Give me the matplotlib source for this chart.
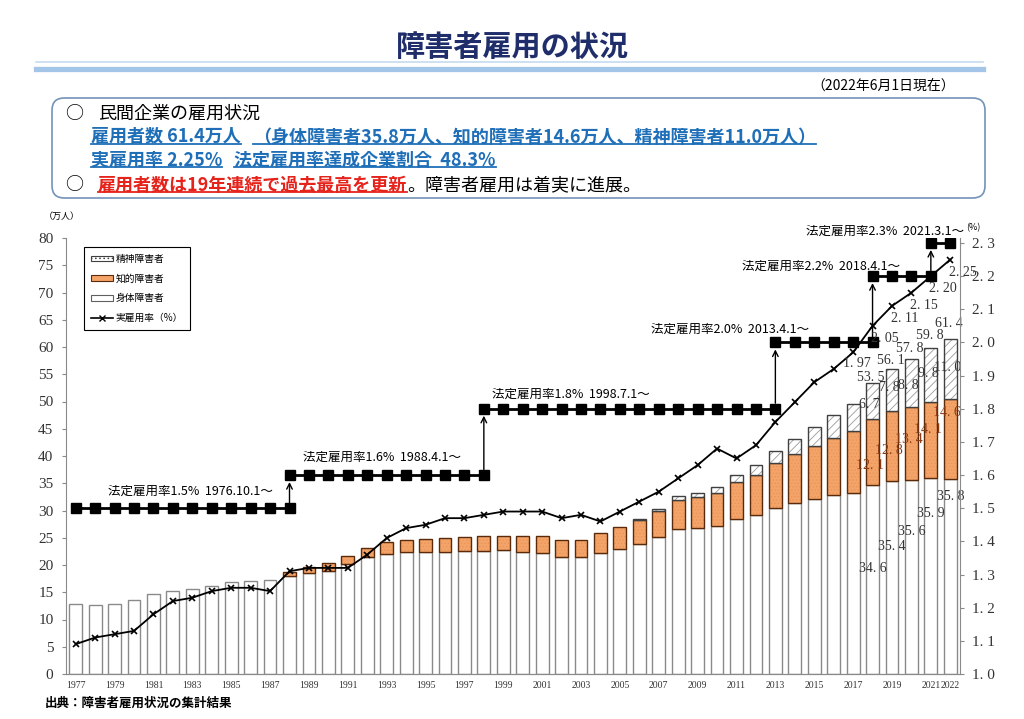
import numpy as np
import matplotlib.pyplot as plt
import matplotlib.patches as mpatches
from matplotlib.lines import Line2D
from matplotlib.patches import FancyBboxPatch

plt.rcParams['font.family'] = ['Noto Sans CJK JP', 'DejaVu Sans']
plt.rcParams['hatch.linewidth'] = 0.6

# data (万人, %)
years = list(range(1977, 2023))
shintai = [12.8, 12.7, 12.8, 13.5, 14.6, 15.3, 15.6, 16.1, 16.8, 17.1, 17.2,
           17.9, 18.5, 18.9, 20.2, 21.4, 22.1, 22.3, 22.3, 22.4, 22.6, 22.6,
           22.7, 22.3, 22.2, 21.4, 21.4, 22.2, 22.9, 23.8, 25.1, 26.6, 26.8,
           27.2, 28.4, 29.1, 30.4, 31.3, 32.1, 32.8, 33.3, 34.6, 35.4, 35.6,
           35.9, 35.8]
chiteki = [0] * 11 + [0.9, 1.2, 1.4, 1.4, 1.7, 2.1, 2.3, 2.5, 2.5, 2.5, 2.7,
                      2.7, 3.0, 3.1, 3.2, 3.2, 3.7, 4.0, 4.4, 4.8, 5.4, 5.7,
                      6.1, 6.9, 7.5, 8.3, 9.0, 9.8, 10.5, 11.2, 12.1, 12.8,
                      13.4, 14.1, 14.6]
seishin = [0] * 29 + [0.2, 0.4, 0.6, 0.8, 1.0, 1.3, 1.7, 2.2, 2.8, 3.4, 4.2,
                      5.0, 6.7, 7.8, 8.8, 9.8, 11.0]
rate = [1.09, 1.11, 1.12, 1.13, 1.18, 1.22, 1.23, 1.25, 1.26, 1.26, 1.25,
        1.31, 1.32, 1.32, 1.32, 1.36, 1.41, 1.44, 1.45, 1.47, 1.47, 1.48,
        1.49, 1.49, 1.49, 1.47, 1.48, 1.46, 1.49, 1.52, 1.55, 1.59, 1.63,
        1.68, 1.65, 1.69, 1.76, 1.82, 1.88, 1.92, 1.97, 2.05, 2.11, 2.15,
        2.20, 2.25]
total_last5 = [53.5, 56.1, 57.8, 59.8, 61.4]

legal_rate = [1.5, 1.6, 1.8, 2.0, 2.2, 2.3]
legal_from = [1977, 1988, 1998, 2013, 2018, 2021]
legal_to = [1988, 1998, 2013, 2018, 2021, 2022]
legal_date = ["1976.10.1～", "1988.4.1～", "1998.7.1～", "2013.4.1～", "2018.4.1～", "2021.3.1～"]
legal_lbl_dx = [1.65, 0.7, 0.4, -6.4, -6.7, -6.4]
legal_lbl_dy = [0.05, 0.055, 0.045, 0.04, 0.03, 0.035]

# label heights (万人) used in the original for the last five years
body_lbl_y = [19.4, 23.4, 26.1, 29.5, 32.5]
chiteki_lbl_y = [38.3, 41.1, 43.1, 44.9, 47.9]
seishin_lbl_y = [49.5, 52.5, 53.0, 55.2, 56.3]

W, H = 1024, 719
SERIF = 'Liberation Serif'

x = np.arange(len(years))
shintai = np.array(shintai)
chiteki = np.array(chiteki)
seishin = np.array(seishin)

fig = plt.figure(figsize=(W / 100, H / 100), dpi=100)
ax = fig.add_axes([66 / W, 45 / H, 894 / W, 436 / H])
ax2 = ax.twinx()

bw = 0.66
ax.bar(x, shintai, bw, color='white', edgecolor='#8a8a8a', lw=1, zorder=2)
m = chiteki > 0
ax.bar(x[m], chiteki[m], bw, bottom=shintai[m], color='#F4A468', edgecolor='#E9955A',
       hatch='.....', lw=0, zorder=2)
ax.bar(x[m], chiteki[m], bw, bottom=shintai[m], fill=False, edgecolor='#5a2a0a', lw=1, zorder=2)
m = seishin > 0
ax.bar(x[m], seishin[m], bw, bottom=(shintai + chiteki)[m], color='white', edgecolor='#9a9a9a',
       hatch='////', lw=0, zorder=2)
ax.bar(x[m], seishin[m], bw, bottom=(shintai + chiteki)[m], fill=False, edgecolor='#404040',
       lw=1, zorder=2)

ax.set_xlim(-0.5, 45.5)
ax.set_ylim(0, 80)
ax2.set_ylim(1.0, 2.315)

# actual rate line
ax2.plot(x, rate, color='black', lw=1.3, marker='x', ms=5, mew=1.2, zorder=4)

# legal rate steps
for i, r in enumerate(legal_rate):
    xs = np.arange(legal_from[i] - 1977, legal_to[i] - 1977 + 1)
    ax2.plot(xs, [r] * len(xs), color='black', lw=2, marker='s', ms=6.5, zorder=5)
    if i > 0:
        xi = legal_from[i] - 1977
        ax2.annotate('', xy=(xi, r), xytext=(xi, legal_rate[i - 1]),
                     arrowprops=dict(arrowstyle='->', color='black', lw=1, shrinkA=4, shrinkB=5),
                     zorder=5)
    ax2.text(legal_from[i] - 1977 + legal_lbl_dx[i], r + legal_lbl_dy[i],
             f"法定雇用率{r:.1f}%  {legal_date[i]}", fontsize=9, ha='left', va='center',
             clip_on=False)


def num(v, d=1):
    return f"{v:.{d}f}".replace('.', '. ')


# value labels for the last five years
FS = 10
for k, i in enumerate(range(41, 46)):
    ax.annotate(num(total_last5[k]), (x[i], total_last5[k]), xytext=(-1, 3.4 + 2 * k),
                textcoords='offset points', ha='center', va='center', fontsize=FS,
                family=SERIF, color='#333333', zorder=6)
    ax.text(x[i] - 0.15, seishin_lbl_y[k], num(seishin[i]), ha='center', va='center',
            fontsize=FS, family=SERIF, color='#333333', zorder=6)
    ax.text(x[i] - 0.15, chiteki_lbl_y[k], num(chiteki[i]), ha='center', va='center',
            fontsize=FS, family=SERIF, color='#8a3a12', zorder=6)
    ax.text(x[i], body_lbl_y[k], num(shintai[i]), ha='center', va='center',
            fontsize=FS, family=SERIF, color='#333333', zorder=6)
    ax2.annotate(num(rate[i], 2), (x[i], rate[i]), xytext=(9, -9),
                 textcoords='offset points', ha='center', va='center', fontsize=FS,
                 family=SERIF, color='#333333', zorder=6)
ax2.annotate(num(rate[40], 2), (x[40], rate[40]), xytext=(3, -8),
             textcoords='offset points', ha='center', va='center', fontsize=FS,
             family=SERIF, color='#333333', zorder=6)

# axes styling
for a in (ax, ax2):
    a.spines['top'].set_visible(False)
    for s in a.spines.values():
        s.set_color('#8a8a8a')
ax.spines['right'].set_visible(False)
ax2.spines['left'].set_visible(False)

ax.set_yticks(range(0, 81, 5))
ax.set_yticklabels([str(v) for v in range(0, 81, 5)], family=SERIF, fontsize=11, color='#333333')
ax.tick_params(axis='y', length=3, color='#8a8a8a', pad=6)
rt = np.round(np.arange(1.0, 2.31, 0.1), 1)
ax2.set_yticks(rt)
ax2.set_yticklabels([num(v) for v in rt], family=SERIF, fontsize=11, color='#333333')
ax2.tick_params(axis='y', length=3, color='#8a8a8a', pad=6)

xt = [i for i, y in enumerate(years) if y % 2 == 1] + [45]
ax.set_xticks(xt)
ax.set_xticklabels([str(years[i]) for i in xt], family=SERIF, fontsize=7, color='#333333')
ax.tick_params(axis='x', length=0, pad=5)

fig.text(62 / W, 1 - 216 / H, "（万人）", fontsize=6.5, ha='center', va='center')
fig.text(973 / W, 1 - 228 / H, "(%)", fontsize=6.5, ha='center', va='center')

# legend
handles = [
    mpatches.Patch(facecolor='white', edgecolor='#404040', hatch='....', lw=0.8),
    mpatches.Patch(facecolor='#F4A468', edgecolor='#5a2a0a', lw=0.8),
    mpatches.Patch(facecolor='white', edgecolor='#606060', lw=0.8),
    Line2D([], [], color='black', lw=1.2, marker='x', ms=4, mew=1),
]
labels = ["精神障害者", "知的障害者", "身体障害者", "実雇用率（%）"]
leg = ax2.legend(handles, labels, loc='upper left', bbox_to_anchor=(0.02, 0.979),
                 borderaxespad=0, fancybox=False, edgecolor='black', fontsize=7,
                 handlelength=2.3, handleheight=0.5, labelspacing=1.0, borderpad=0.7,
                 handletextpad=0.3, framealpha=1)
leg.get_frame().set_linewidth(0.8)
leg.set_zorder(10)

# header
fig.text(0.5, 1 - 47 / H, "障害者雇用の状況", ha='center', va='center', fontsize=21,
         weight='bold', color='#1F2D6B')
fig.add_artist(Line2D([36 / W, 983 / W], [1 - 62 / H] * 2, color='#C5DCF0', lw=1.2))
fig.add_artist(Line2D([36 / W, 983 / W], [1 - 68.5 / H] * 2, color='#A3C6E8', lw=3.8))
fig.text(955 / W, 1 - 86 / H, "（2022年6月1日現在）", ha='right', va='center', fontsize=10)

box = FancyBboxPatch((52 / W, 1 - 198 / H), 933 / W, 100 / H,
                     boxstyle='round,pad=0,rounding_size=0.012', mutation_aspect=W / H,
                     transform=fig.transFigure, fc='white', ec='#7393b8', lw=1.2)
fig.add_artist(box)

BLUE = '#1F6FB8'
RED = '#E5231B'
renderer = fig.canvas.get_renderer()
underlined = []


def segs(x0, yc, parts):
    xp = x0
    for s, color, weight, ul, gap in parts:
        t = fig.text(xp / W, 1 - yc / H, s, ha='left', va='center', fontsize=13,
                     color=color, weight=weight)
        bb = t.get_window_extent(renderer)
        if ul:
            underlined.append((bb, color))
        xp = bb.x1 + gap


fig.text(74 / W, 1 - 114 / H, "○", ha='center', va='center', fontsize=13)
segs(98, 114, [("民間企業の雇用状況", 'black', 'normal', False, 0)])
segs(91, 137, [("雇用者数 61.4万人", BLUE, 'bold', True, 12),
               ("（身体障害者35.8万人、知的障害者14.6万人、精神障害者11.0万人）", BLUE, 'bold', True, 0)])
segs(91, 160, [("実雇用率 2.25%", BLUE, 'bold', True, 12),
               ("法定雇用率達成企業割合  48.3%", BLUE, 'bold', True, 0)])
fig.text(74 / W, 1 - 185 / H, "○", ha='center', va='center', fontsize=13)
segs(98, 185, [("雇用者数は19年連続で過去最高を更新", RED, 'bold', True, 0),
               ("。障害者雇用は着実に進展。", 'black', 'normal', False, 0)])

for bb, color in underlined:
    yl = bb.y0 + 2.5
    fig.add_artist(Line2D([bb.x0 / W, bb.x1 / W], [yl / H, yl / H], color=color, lw=1.3))

fig.text(45 / W, 1 - 703 / H, "出典：障害者雇用状況の集計結果", ha='left', va='center',
         fontsize=9, weight='bold')

fig.savefig("out.png", dpi=100)
